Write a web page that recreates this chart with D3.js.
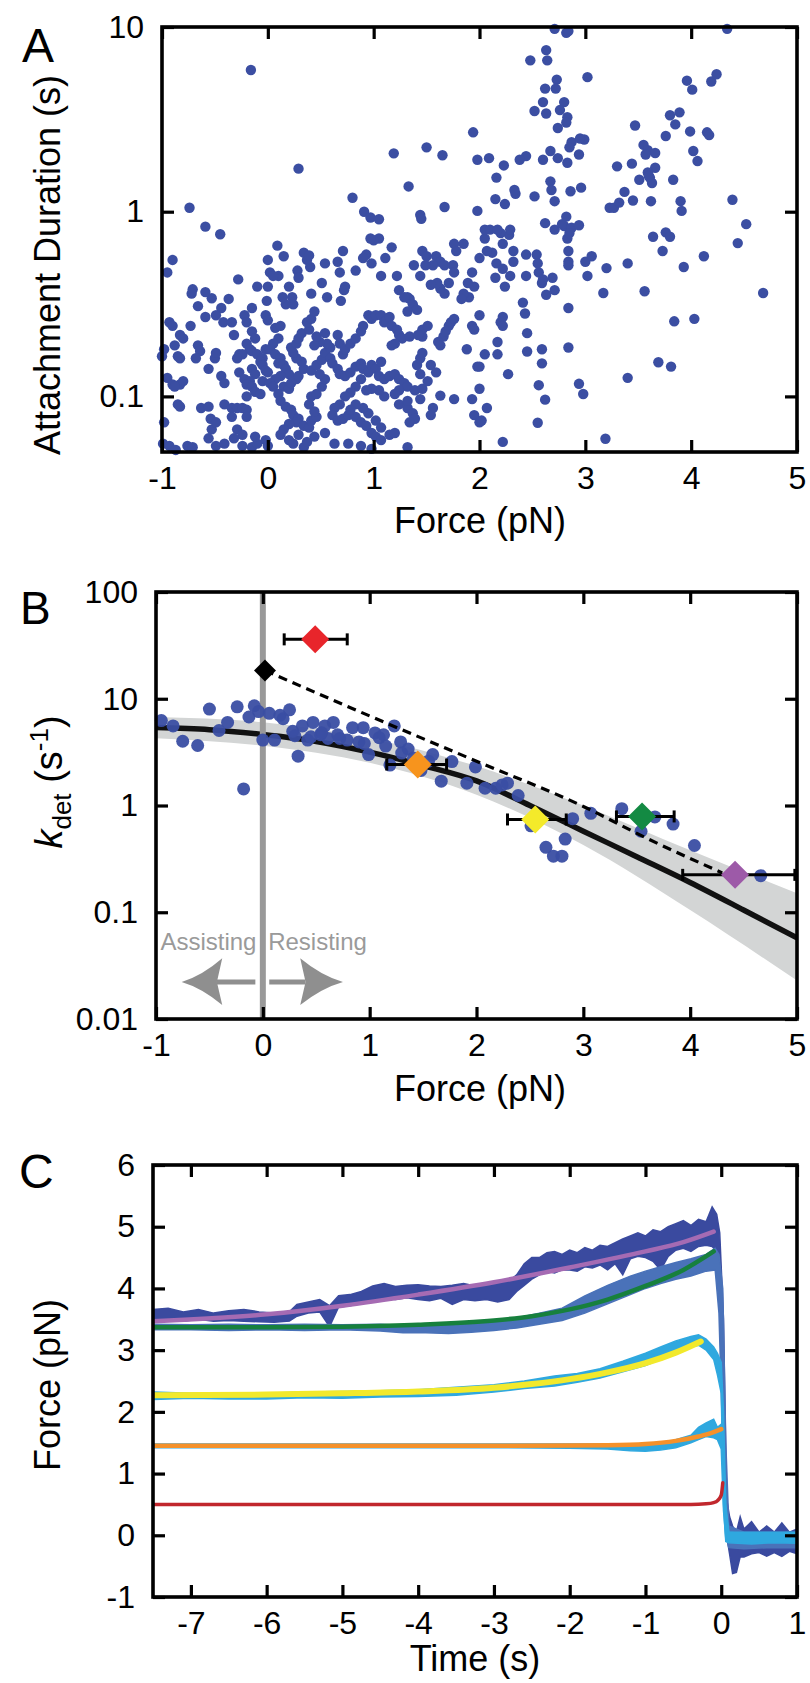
<!DOCTYPE html>
<html><head><meta charset="utf-8">
<script src="https://cdn.jsdelivr.net/npm/d3@7"></script>
<style>body{margin:0;background:#fff}svg{display:block}</style>
</head><body><svg id="fig" width="810" height="1683"></svg>
<script>
// ---------------- DATA ----------------
// Panel A: [force (pN), attachment duration (s)]
const scatterA = [
[-0.16,5.85],[2.71,9.77],[2.82,9.3],[2.84,9.5],[4.34,9.77],[2.48,6.6],[2.63,7.5],[2.64,6.6],[3.02,5.35],[2.73,5.19],[2.62,4.64],[2.72,4.64],[2.60,3.92],[2.52,3.51],[2.63,3.4],[2.80,3.92],[2.76,3.55],[2.83,3.25],[2.82,3.04],[2.74,2.84],[2.87,2.38],[2.85,2.23],[2.99,2.46],[2.95,2.49],[2.94,2.04],[2.83,1.84],[2.74,1.95],[2.67,2.13],[2.60,1.91],[2.44,2.0],[2.38,1.91],[2.23,1.78],[2.09,1.95],[1.98,1.91],[1.94,2.69],[1.65,2.02],[1.50,2.23],[1.19,2.07],[0.29,1.71],[1.33,1.37],[0.80,1.19],[-0.74,1.05],[0.91,1.0],[0.97,0.93],[1.05,0.91],[1.44,0.96],[1.45,0.915],[1.67,1.06],[1.98,1.01],[2.16,1.53],[2.15,1.17],[2.24,1.10],[2.34,1.25],[2.33,1.31],[2.52,1.21],[2.67,1.46],[2.68,1.31],[2.71,1.14],[2.86,1.29],[2.96,1.35],[2.82,0.94],[2.80,0.837],[2.71,0.80],[2.78,0.856],[2.87,0.818],[2.94,0.845],[2.83,0.716],[2.85,0.766],[2.62,0.867],[3.30,1.76],[3.23,1.05],[3.27,1.05],[3.32,1.12],[3.37,1.28],[3.44,1.82],[3.47,2.93],[3.55,2.30],[3.59,2.15],[3.57,2.04],[3.66,2.08],[3.66,1.73],[3.51,1.49],[3.59,1.63],[3.61,1.53],[3.63,1.43],[3.60,1.56],[3.45,1.15],[3.62,1.14],[3.83,1.49],[3.76,2.57],[3.80,3.33],[3.89,3.45],[3.85,2.97],[3.99,2.72],[4.02,2.13],[4.06,1.88],[3.96,5.12],[4.01,4.58],[4.19,5.07],[4.24,5.55],[4.15,2.69],[4.17,2.6],[3.90,1.14],[3.91,1.01],[4.39,1.16],[4.52,0.856],[4.44,0.676],[3.64,0.732],[3.76,0.773],[3.80,0.732],[3.73,0.613],[4.12,0.574],[3.93,0.502],[3.40,0.525],[3.56,0.371],[4.68,0.363],[3.84,0.255],[4.03,0.263],[3.69,0.153],[3.81,0.145],[3.40,0.126],[3.19,0.059],[3.17,0.363],[3.20,0.495],[3.02,0.449],[3.0,0.536],[3.06,0.574],[2.84,0.301],[2.84,0.184],[2.94,0.117],[2.98,0.103],[2.59,0.18],[2.59,0.151],[2.56,0.115],[2.62,0.096],[2.55,0.072],[2.69,0.439],[2.71,0.376],[2.63,0.355],[2.59,0.411],[2.84,0.613],[2.84,0.536],[2.84,0.513],[2.54,0.586],[2.55,0.525],[2.56,0.469],[2.60,0.43],[2.44,0.586],[2.44,0.449],[2.41,0.322],[2.43,0.281],[2.45,0.22],[2.45,0.175],[2.32,0.613],[2.32,0.536],[2.29,0.449],[2.24,0.393],[2.22,0.67],[2.28,0.749],[2.29,0.80],[2.20,0.766],[2.12,0.60],[2.07,0.613],[2.0,0.561],[2.16,0.525],[2.05,0.716],[2.05,0.80],[2.10,0.80],[2.17,0.80],[1.95,0.393],[1.89,0.411],[1.93,0.469],[1.90,0.344],[1.76,0.67],[1.78,0.613],[1.75,0.513],[1.76,0.469],[1.71,0.411],[1.67,0.36],[1.63,0.384],[1.60,0.411],[1.85,0.67],[1.59,0.574],[1.63,0.536],[1.56,0.513],[1.67,0.513],[1.46,0.613],[1.49,0.513],[1.50,0.574],[1.38,0.513],[1.44,0.449],[1.54,0.402],[1.22,0.449],[1.24,0.376],[1.32,0.344],[1.34,0.337],[1.11,0.561],[1.07,0.449],[1.17,0.641],[1.05,0.716],[1.0,0.70],[0.97,0.716],[0.93,0.586],[0.98,0.525],[0.90,0.561],[0.83,0.48],[0.73,0.393],[0.69,0.329],[0.72,0.376],[0.66,0.536],[0.71,0.613],[0.68,0.469],[0.54,0.525],[0.51,0.411],[0.56,0.344],[0.41,0.36],[0.40,0.502],[0.37,0.548],[0.34,0.60],[0.39,0.58],[0.28,0.48],[0.29,0.439],[0.20,0.393],[0.23,0.344],[0.24,0.315],[0.17,0.315],[0.14,0.344],[0.15,0.574],[0.09,0.655],[0.0,0.548],[0.02,0.469],[0.0,0.393],[-0.01,0.329],[0.10,0.449],[0.05,0.449],[-0.10,0.393],[-0.15,0.301],[-0.28,0.43],[-0.37,0.337],[-0.44,0.301],[-0.53,0.34],[-0.59,0.367],[-0.66,0.308],[-0.71,0.38],[-0.72,0.36],[-0.49,0.275],[-0.59,0.269],[-0.90,0.548],[-0.95,0.469],[-0.59,0.83],[-0.45,0.755],
[-0.93,0.252],[-0.90,0.241],[-0.83,0.215],[-0.80,0.206],[-0.73,0.241],[-0.66,0.189],[-0.64,0.176],[-0.88,0.189],[-0.98,0.18],[-1.0,0.165],[-0.85,0.165],[-0.83,0.161],[-0.68,0.161],[-0.95,0.126],[-0.90,0.116],[-0.83,0.116],[-0.80,0.121],[-0.88,0.113],[-0.85,0.0905],[-0.83,0.088],[-0.98,0.0724],[-0.99,0.0555],[-0.93,0.054],[-0.87,0.0513],[-0.76,0.054],[-0.71,0.0531],[-0.63,0.0865],[-0.56,0.088],[-0.54,0.0757],[-0.53,0.0663],[-0.49,0.0724],[-0.56,0.0593],[-0.49,0.054],[-0.41,0.0555],[-0.56,0.141],[-0.44,0.129],[-0.41,0.118],[-0.50,0.161],[-0.49,0.172],[-0.42,0.252],[-0.34,0.252],[-0.32,0.215],[-0.27,0.169],[-0.24,0.169],[-0.29,0.161],[-0.27,0.135],[-0.22,0.124],[-0.41,0.0905],[-0.34,0.0865],[-0.29,0.0865],[-0.24,0.0865],[-0.20,0.0846],[-0.20,0.0775],[-0.34,0.0775],[-0.29,0.0663],[-0.24,0.062],[-0.32,0.0593],[-0.24,0.054],[-0.15,0.0531],[-0.10,0.0555],[-0.12,0.0606],[-0.02,0.058],[0.0,0.054],[-0.22,0.275],[-0.20,0.252],[-0.15,0.225],[-0.12,0.206],[-0.20,0.193],[-0.17,0.18],[-0.15,0.176],[-0.10,0.169],[-0.05,0.161],[-0.02,0.18],[-0.07,0.154],[-0.05,0.148],[-0.02,0.138],[0.0,0.135],[-0.15,0.141],[-0.12,0.132],[-0.17,0.121],[-0.20,0.116],[-0.15,0.113],[-0.12,0.106],[-0.20,0.10],[-0.07,0.103],[-0.05,0.121],[-0.02,0.275],[0.0,0.258],[0.07,0.235],[0.12,0.241],[0.10,0.206],[0.05,0.193],[0.02,0.18],[0.07,0.169],[0.12,0.161],[0.10,0.151],[0.15,0.148],[0.17,0.141],[0.20,0.132],[0.12,0.129],[0.07,0.124],[0.02,0.118],[0.05,0.113],[0.15,0.113],[0.20,0.11],[0.22,0.118],[0.27,0.124],[0.29,0.129],[0.34,0.141],[0.32,0.154],[0.27,0.161],[0.24,0.172],[0.22,0.184],[0.27,0.193],[0.29,0.206],[0.32,0.22],[0.39,0.23],[0.37,0.252],[0.41,0.263],[0.44,0.288],[0.10,0.103],[0.12,0.0946],[0.17,0.088],[0.22,0.0846],[0.24,0.0792],[0.29,0.0757],[0.27,0.0724],[0.20,0.0709],[0.15,0.0663],[0.12,0.062],[0.20,0.058],[0.24,0.0555],[0.34,0.0531],[0.29,0.062],[0.34,0.0693],[0.39,0.0678],[0.41,0.074],[0.46,0.0775],[0.44,0.0828],[0.39,0.0905],[0.41,0.10],[0.46,0.103],[0.51,0.113],[0.54,0.124],[0.49,0.132],[0.41,0.138],[0.46,0.148],[0.51,0.158],[0.54,0.172],[0.59,0.184],[0.56,0.193],[0.49,0.197],[0.44,0.189],[0.46,0.211],[0.54,0.22],[0.66,0.215],[0.68,0.193],[0.71,0.169],[0.73,0.18],[0.78,0.193],[0.83,0.206],[0.88,0.225],[0.90,0.241],[0.95,0.275],[0.98,0.263],[1.02,0.275],[1.07,0.275],[1.10,0.252],[1.12,0.258],[1.15,0.269],[1.17,0.241],[1.22,0.23],[1.24,0.215],[1.27,0.206],[1.34,0.211],[1.20,0.193],[1.17,0.189],[0.59,0.161],[0.61,0.151],[0.66,0.141],[0.68,0.132],[0.73,0.129],[0.78,0.135],[0.83,0.145],[0.88,0.151],[0.90,0.141],[0.95,0.135],[0.98,0.148],[1.02,0.141],[1.07,0.154],[1.05,0.129],[1.10,0.124],[1.15,0.129],[1.20,0.132],[1.24,0.124],[1.29,0.118],[1.32,0.113],[1.24,0.108],[1.20,0.103],[1.10,0.10],[1.05,0.108],[0.98,0.11],[0.93,0.108],[0.88,0.124],[0.83,0.113],[0.78,0.105],[0.73,0.10],[0.68,0.0905],[0.63,0.0865],[0.61,0.0792],[0.66,0.074],[0.71,0.0757],[0.76,0.0792],[0.83,0.0775],[0.88,0.0724],[0.93,0.0693],[0.98,0.0634],[1.02,0.0606],[1.07,0.058],[1.15,0.062],[1.20,0.0634],[1.07,0.0678],[1.02,0.074],[0.95,0.081],[0.90,0.0865],[0.83,0.0905],[0.78,0.0846],[1.24,0.0905],[1.32,0.0865],[1.37,0.081],[1.39,0.0757],[1.34,0.0724],[1.32,0.0946],[1.44,0.0967],[1.39,0.108],[1.46,0.11],[1.51,0.121],[1.44,0.132],[1.41,0.148],[1.44,0.161],[1.46,0.172],[1.54,0.148],[1.59,0.135],[1.46,0.211],[1.46,0.23],[1.42,0.215],[1.51,0.241],[1.66,0.211],[1.68,0.225],[1.71,0.241],[1.73,0.252],[1.76,0.263],[1.61,0.197],[1.63,0.189],[1.88,0.18],[1.93,0.241],[1.95,0.23],[2.0,0.275],[2.05,0.169],[2.17,0.197],[2.17,0.169],[2.20,0.252],[2.22,0.269],[2.22,0.241],[1.98,0.145],[2.0,0.145],[2.0,0.11],[1.93,0.0967],[1.95,0.0792],[2.0,0.0724],[2.02,0.074],[2.07,0.0865],[2.27,0.132],[2.22,0.0567],[1.63,0.101],[1.76,0.0967],[1.56,0.0865],[1.54,0.0792],[1.32,0.0531],[0.98,0.052],[0.88,0.054],[0.76,0.0555],[0.63,0.0555],[0.54,0.0634],[0.44,0.0606],[0.37,0.0567],[1.37,0.315],[1.41,0.294],[1.32,0.288],[1.29,0.344],[1.85,0.36],[1.83,0.337],[2.15,0.439],[2.22,0.491]
];
const xTicksA = [-1,0,1,2,3,4,5];
const yTicksA = [0.1,1,10];
const yLabelsA = ["0.1","1","10"];

// Panel B: [force (pN), k_det (1/s)]
const scatterB = [[-0.95,6.25],[-0.84,5.57],[-0.75,4.0],[-0.61,3.65],[-0.50,8.0],[-0.41,5.04],[-0.33,6.0],[-0.24,8.4],[-0.18,1.43],[-0.13,6.75],[-0.08,8.6],[-0.04,7.58],[0.0,4.1],[0.06,7.3],[0.11,4.1],[0.16,7.0],[0.19,6.5],[0.25,7.87],[0.28,4.96],[0.33,2.9],[0.37,5.57],[0.42,4.1],[0.47,6.0],[0.54,4.6],[0.58,5.57],[0.61,4.25],[0.66,6.0],[0.72,4.25],[0.79,4.1],[0.84,5.36],[0.90,3.94],[0.94,5.36],[0.99,3.0],[1.05,4.78],[1.09,4.32],[1.13,4.6],[1.19,2.39],[1.23,5.57],[1.29,3.94],[1.36,3.38],[1.41,2.79],[1.48,2.13],[1.59,3.0],[1.67,1.69],[1.77,2.58],[1.91,1.62],[1.99,2.3],[2.08,1.45],[2.18,1.45],[2.24,1.56],[2.29,1.62],[2.39,1.24],[2.51,0.645],[2.65,0.406],[2.72,0.335],[2.80,0.335],[2.83,0.485],[2.90,0.752],[3.07,0.844],[3.36,0.933],[3.54,0.574],[3.67,0.782],[3.84,0.67],[4.04,0.422],[4.66,0.22],[0.55,4.8],[0.7,4.6],[0.95,3.8],[1.15,3.6],[1.3,3.1],[1.55,2.6],[0.3,4.5],[0.45,4.4]];
const bandF  = [-1, 0, 1, 2, 3, 4, 5];
const bandHi = [6.76, 6.03, 4.27, 2.34, 1.0, 0.38, 0.151];
const bandLo = [4.27, 3.63, 2.51, 1.26, 0.427, 0.105, 0.0229];
const fitF = [-1, -0.5, 0, 0.5, 1, 1.5, 2, 2.5, 3, 3.5, 4, 4.5, 5];
const fitK = [5.37, 5.13, 4.62, 3.98, 3.16, 2.37, 1.70, 1.0, 0.575, 0.331, 0.19, 0.105, 0.0575];
const dashF = [0.02, 1.0, 2.0, 3.0, 3.6, 4.3];
const dashK = [18.4, 6.9, 2.6, 0.98, 0.49, 0.234];
const diamondF  = [0.49, 0.02, 1.45, 2.55, 3.55, 4.42];
const diamondK  = [36, 18.4, 2.42, 0.74, 0.79, 0.224];
const diamondLo = [0.20, null, 1.16, 2.29, 3.31, 3.93];
const diamondHi = [0.79, null, 1.72, 2.84, 3.85, 4.98];
const diamondColors = ["#e8252b", "#000000", "#f7941d", "#f4ea2a", "#138a43", "#9d5aa8"];
const xTicksB = [-1,0,1,2,3,4,5];
const yTicksB = [0.01,0.1,1,10,100];
const yLabelsB = ["0.01","0.1","1","10","100"];

// Panel C: noisy traces as [time (s), low, high] envelopes, fits as [time, force]
const darkTrace = [[-7.5,3.48,3.66],[-7.3,3.50,3.68],[-7.1,3.47,3.62],[-6.9,3.50,3.66],[-6.7,3.47,3.60],[-6.5,3.48,3.64],[-6.3,3.47,3.66],[-6.1,3.46,3.62],[-5.9,3.45,3.60],[-5.7,3.47,3.62],[-5.6,3.55,3.74],[-5.45,3.60,3.78],[-5.3,3.62,3.82],[-5.17,3.38,3.72],[-5.05,3.70,3.88],[-4.9,3.72,3.90],[-4.75,3.76,3.95],[-4.6,3.80,4.04],[-4.45,3.84,4.08],[-4.3,3.82,4.03],[-4.15,3.85,4.05],[-4.0,3.82,4.06],[-3.85,3.80,4.04],[-3.7,3.84,4.03],[-3.55,3.74,4.05],[-3.4,3.82,4.08],[-3.25,3.80,4.04],[-3.1,3.82,4.07],[-2.95,3.78,4.09],[-2.8,3.82,4.12],[-2.7,3.95,4.22],[-2.6,4.05,4.40],[-2.5,4.15,4.50],[-2.4,4.22,4.50],[-2.3,4.28,4.58],[-2.2,4.25,4.60],[-2.1,4.30,4.55],[-2.0,4.30,4.62],[-1.9,4.28,4.58],[-1.8,4.35,4.66],[-1.7,4.33,4.62],[-1.6,4.38,4.70],[-1.5,4.30,4.68],[-1.4,4.40,4.74],[-1.3,4.22,4.80],[-1.2,4.48,4.85],[-1.1,4.52,4.90],[-1.0,4.50,4.85],[-0.9,4.44,4.95],[-0.8,4.30,4.92],[-0.7,4.52,5.00],[-0.6,4.62,5.05],[-0.5,4.65,5.10],[-0.4,4.60,5.02],[-0.3,4.68,5.12],[-0.2,4.70,5.08],[-0.12,4.68,5.32],[-0.06,4.60,5.20],[-0.02,4.00,4.90],[0.03,1.00,3.50],[0.07,0.00,0.60],[0.11,-0.30,0.30],[0.15,-0.62,0.15],[0.2,-0.60,0.05],[0.25,-0.35,0.30],[0.3,-0.35,0.10],[0.4,-0.30,0.22],[0.5,-0.28,0.05],[0.6,-0.34,0.15],[0.7,-0.28,0.05],[0.8,-0.34,0.20],[0.9,-0.26,0.05],[1.0,-0.30,0.10]];
const mediumTrace = [[-7.5,3.33,3.42],[-7.0,3.33,3.41],[-6.5,3.32,3.42],[-6.0,3.33,3.41],[-5.5,3.32,3.42],[-5.0,3.33,3.41],[-4.5,3.31,3.42],[-4.2,3.28,3.40],[-3.9,3.28,3.41],[-3.6,3.27,3.40],[-3.3,3.29,3.42],[-3.0,3.32,3.46],[-2.7,3.36,3.52],[-2.4,3.42,3.60],[-2.1,3.48,3.68],[-1.8,3.60,3.88],[-1.5,3.75,4.05],[-1.2,3.90,4.20],[-1.0,4.00,4.28],[-0.8,4.08,4.35],[-0.6,4.15,4.42],[-0.4,4.20,4.48],[-0.2,4.28,4.55],[-0.08,4.30,4.65],[-0.03,3.60,4.55],[0.02,1.50,4.00],[0.06,0.00,1.50],[0.1,-0.20,0.15],[0.3,-0.22,0.05],[0.6,-0.20,0.05],[1.0,-0.20,0.05]];
const lightTraceA = [[-7.5,2.20,2.32],[-7.0,2.22,2.30],[-6.5,2.21,2.30],[-6.0,2.21,2.30],[-5.5,2.23,2.32],[-5.0,2.22,2.33],[-4.5,2.24,2.34],[-4.0,2.25,2.36],[-3.5,2.27,2.40],[-3.0,2.32,2.44],[-2.6,2.38,2.50],[-2.2,2.42,2.58],[-1.9,2.48,2.62],[-1.6,2.55,2.70],[-1.3,2.65,2.82],[-1.0,2.75,2.95],[-0.8,2.85,3.05],[-0.6,2.95,3.15],[-0.4,3.05,3.22],[-0.3,3.08,3.25],[-0.2,3.00,3.18],[-0.1,2.85,3.05],[-0.05,2.60,2.95],[0.0,2.30,2.80],[0.03,0.50,2.00],[0.06,-0.10,0.50],[0.1,-0.12,0.05],[0.4,-0.14,0.02],[0.7,-0.12,0.03],[1.0,-0.13,0.02]];
const lightTraceB = [[-7.5,1.42,1.48],[-3.0,1.42,1.48],[-2.0,1.41,1.48],[-1.5,1.40,1.48],[-1.2,1.37,1.46],[-1.0,1.36,1.45],[-0.8,1.38,1.48],[-0.6,1.42,1.55],[-0.4,1.50,1.62],[-0.3,1.55,1.75],[-0.2,1.60,1.82],[-0.1,1.58,1.88],[-0.05,1.55,1.75],[0.0,1.40,1.80],[0.03,0.40,1.40],[0.06,-0.05,0.40],[0.1,-0.10,0.05],[1.0,-0.10,0.05]];
const fitPurple = [[-7.5,3.47],[-6,3.58],[-5,3.72],[-4,3.9],[-3,4.1],[-2,4.34],[-1,4.6],[-0.5,4.75],[-0.1,4.92]];
const fitGreen  = [[-7.5,3.37],[-6,3.37],[-5,3.38],[-4,3.41],[-3,3.48],[-2.5,3.55],[-2,3.66],[-1.5,3.82],[-1,4.04],[-0.5,4.3],[-0.1,4.6]];
const fitYellow = [[-7.5,2.27],[-6,2.28],[-5,2.30],[-4,2.33],[-3,2.39],[-2.5,2.45],[-2,2.53],[-1.5,2.64],[-1,2.79],[-0.6,2.96],[-0.27,3.14]];
const fitOrange = [[-7.5,1.45],[-3,1.45],[-2,1.455],[-1.5,1.46],[-1,1.48],[-0.6,1.53],[-0.3,1.6],[-0.1,1.67],[0.0,1.72]];
const fitRed    = [[-7.5,0.5],[-1,0.5],[-0.4,0.5],[-0.2,0.51],[-0.1,0.53],[-0.05,0.56],[0.0,0.65],[0.02,0.85]];
const xTicksC = [-7,-6,-5,-4,-3,-2,-1,0,1];
const yTicksC = [-1,0,1,2,3,4,5,6];

// ---------------- DRAWING ----------------
const FONT = "'Liberation Sans', Arial, Helvetica, sans-serif";
const svg = d3.select("#fig");
svg.append("rect").attr("width",810).attr("height",1683).attr("fill","#fff");

function frame(x, y, xt, xl, yt, yl) {
  const [x0,x1] = x.range(), [yb,ytop] = y.range();
  const g = svg.append("g"); const TK = 12;
  g.append("g").attr("transform",`translate(0,${yb})`)
    .call(d3.axisBottom(x).tickValues(xt).tickFormat((d,i)=>xl[i]).tickSizeInner(-TK).tickSizeOuter(0).tickPadding(14));
  g.append("g").attr("transform",`translate(0,${ytop})`)
    .call(d3.axisTop(x).tickValues(xt).tickFormat(()=>"").tickSizeInner(-TK).tickSizeOuter(0));
  g.append("g").attr("transform",`translate(${x0},0)`)
    .call(d3.axisLeft(y).tickValues(yt).tickFormat((d,i)=>yl[i]).tickSizeInner(-TK).tickSizeOuter(0).tickPadding(18));
  g.append("g").attr("transform",`translate(${x1},0)`)
    .call(d3.axisRight(y).tickValues(yt).tickFormat(()=>"").tickSizeInner(-TK).tickSizeOuter(0));
  g.selectAll(".domain").remove();
  g.selectAll(".tick line").attr("stroke","#000").attr("stroke-width",3.2);
  g.selectAll(".tick text").attr("font-family",FONT).attr("font-size",32).attr("fill","#000");
  g.append("rect").attr("x",x0).attr("y",ytop).attr("width",x1-x0).attr("height",yb-ytop)
    .attr("fill","none").attr("stroke","#000").attr("stroke-width",3.6);
}
function label(x,y,s,size,rot,anchor){
  return svg.append("text").attr("font-family",FONT).attr("font-size",size).attr("fill","#000")
    .attr("text-anchor",anchor||"middle").attr("transform",`translate(${x},${y}) rotate(${rot||0})`).text(s);
}

// ===== Panel A =====
const xA = d3.scaleLinear([-1,5],[162,797]);
const yA = d3.scaleLog([0.05,10],[452,27]);
svg.append("g").selectAll("circle").data(scatterA).join("circle")
  .attr("cx",d=>xA(d[0])).attr("cy",d=>yA(d[1])).attr("r",5.2).attr("fill","#3b4ea2");
frame(xA,yA,xTicksA,xTicksA.map(String),yTicksA,yLabelsA);
label(22,62,"A",48,0,"start");
label(480,533,"Force (pN)",36);
label(60,265,"Attachment Duration (s)",36,-90);

// ===== Panel B =====
const xB = d3.scaleLinear([-1,5],[156,797]);
const yB = d3.scaleLog([0.01,100],[1019,592]);
svg.append("clipPath").attr("id","clipB").append("rect").attr("x",156).attr("y",592).attr("width",641).attr("height",427);
const gB = svg.append("g").attr("clip-path","url(#clipB)");
gB.append("path").datum(bandF.map((f,i)=>[f,bandLo[i],bandHi[i]]))
  .attr("d",d3.area().x(d=>xB(d[0])).y0(d=>yB(d[1])).y1(d=>yB(d[2])).curve(d3.curveMonotoneX))
  .attr("fill","#d3d5d5");
gB.append("path").datum(fitF.map((f,i)=>[f,fitK[i]]))
  .attr("d",d3.line().x(d=>xB(d[0])).y(d=>yB(d[1])).curve(d3.curveMonotoneX))
  .attr("fill","none").attr("stroke","#111").attr("stroke-width",5.5);
gB.append("line").attr("x1",xB(0)).attr("x2",xB(0)).attr("y1",yB(100)).attr("y2",yB(0.01))
  .attr("stroke","#999").attr("stroke-width",6);
const arrowY = yB(0.0222), wingUp = yB(0.037), wingDn = yB(0.0135);
const arrows = [{tip:-0.76, wing:-0.38, notch:-0.43, tail:-0.07},{tip:0.75, wing:0.35, notch:0.40, tail:0.06}];
arrows.forEach(a=>{
  const tip=xB(a.tip), wing=xB(a.wing), notch=xB(a.notch);
  gB.append("line").attr("x1",xB(a.tail)).attr("x2",notch).attr("y1",arrowY).attr("y2",arrowY)
    .attr("stroke","#8f8f8f").attr("stroke-width",5);
  const mx=(tip+wing)/2;
  gB.append("path").attr("d",`M${tip},${arrowY} Q${mx},${arrowY-6} ${wing},${wingUp} L${notch},${arrowY} L${wing},${wingDn} Q${mx},${arrowY+6} ${tip},${arrowY} Z`)
    .attr("fill","#8f8f8f");
});
svg.append("text").attr("x",xB(-0.06)).attr("y",yB(0.0443)).attr("text-anchor","end")
  .attr("font-family",FONT).attr("font-size",24).attr("fill","#9a9a9a").text("Assisting");
svg.append("text").attr("x",xB(0.05)).attr("y",yB(0.0443)).attr("text-anchor","start")
  .attr("font-family",FONT).attr("font-size",24).attr("fill","#9a9a9a").text("Resisting");
svg.append("g").selectAll("circle").data(scatterB).join("circle")
  .attr("cx",d=>xB(d[0])).attr("cy",d=>yB(d[1])).attr("r",6.5).attr("fill","#3a4ea3").attr("fill-opacity",0.95);
svg.append("path").datum(dashF.map((f,i)=>[f,dashK[i]]))
  .attr("d",d3.line().x(d=>xB(d[0])).y(d=>yB(d[1])).curve(d3.curveMonotoneX))
  .attr("fill","none").attr("stroke","#000").attr("stroke-width",3.2).attr("stroke-dasharray","9,6");
diamondF.forEach((f,i)=>{
  const cx=xB(f), cy=yB(diamondK[i]);
  if(diamondLo[i]!=null){
    const l=xB(diamondLo[i]), r=xB(diamondHi[i]);
    svg.append("line").attr("x1",l).attr("x2",r).attr("y1",cy).attr("y2",cy).attr("stroke","#000").attr("stroke-width",3);
    [l,r].forEach(e=>svg.append("line").attr("x1",e).attr("x2",e).attr("y1",cy-6).attr("y2",cy+6).attr("stroke","#000").attr("stroke-width",3));
  }
  const h = i===1 ? 11 : 14;
  svg.append("path").attr("d",`M${cx},${cy-h} L${cx+h},${cy} L${cx},${cy+h} L${cx-h},${cy} Z`).attr("fill",diamondColors[i]);
});
frame(xB,yB,xTicksB,xTicksB.map(String),yTicksB,yLabelsB);
label(20,624,"B",46,0,"start");
label(480,1101,"Force (pN)",36);
const tB = svg.append("text").attr("font-family",FONT).attr("font-size",38).attr("fill","#000")
  .attr("text-anchor","middle").attr("transform","translate(62,782) rotate(-90)");
tB.append("tspan").attr("font-style","italic").text("k");
tB.append("tspan").attr("font-size",26).attr("dy",9).text("det");
tB.append("tspan").attr("dy",-9).text(" (s");
tB.append("tspan").attr("font-size",26).attr("dy",-14).text("-1");
tB.append("tspan").attr("dy",14).text(")");

// ===== Panel C =====
const xC = d3.scaleLinear([-7.5,1],[153,797]);
const yC = d3.scaleLinear([-1,6],[1597,1165]);
svg.append("clipPath").attr("id","clipC").append("rect").attr("x",153).attr("y",1165).attr("width",644).attr("height",432);
const gC = svg.append("g").attr("clip-path","url(#clipC)");
const env = d3.area().x(d=>xC(d[0])).y0(d=>yC(d[1])).y1(d=>yC(d[2]));
gC.append("path").datum(darkTrace).attr("d",env).attr("fill","#3a4a9f").attr("stroke","#3a4a9f").attr("stroke-width",1.5);
gC.append("path").datum(mediumTrace).attr("d",env).attr("fill","#4a72b9").attr("stroke","#4a72b9").attr("stroke-width",1.5);
gC.append("path").datum(lightTraceA).attr("d",env).attr("fill","#2fa8df").attr("stroke","#2fa8df").attr("stroke-width",1.5);
gC.append("path").datum(lightTraceB).attr("d",env).attr("fill","#2fa8df").attr("stroke","#2fa8df").attr("stroke-width",1.5);
const fitLine = d3.line().x(d=>xC(d[0])).y(d=>yC(d[1])).curve(d3.curveMonotoneX);
[[fitPurple,"#a56bb3",4.5],[fitGreen,"#17803d",4.5],[fitYellow,"#f2e92c",6],[fitOrange,"#f5912a",4.5],[fitRed,"#c1272d",3.5]].forEach(([d,c,w])=>{
  gC.append("path").datum(d).attr("d",fitLine).attr("fill","none").attr("stroke",c).attr("stroke-width",w).attr("stroke-linecap","round");
});
frame(xC,yC,xTicksC,xTicksC.map(String),yTicksC,yTicksC.map(String));
label(19,1188,"C",48,0,"start");
label(475,1671,"Time (s)",36);
label(60,1385,"Force (pN)",36,-90);
</script></body></html>
